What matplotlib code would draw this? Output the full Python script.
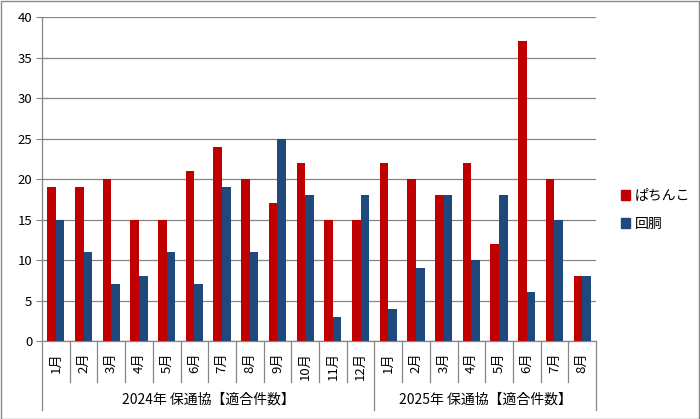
import matplotlib
matplotlib.use("Agg")
import matplotlib.pyplot as plt
import matplotlib.transforms as mtransforms
from matplotlib.patches import Rectangle, Patch
import numpy as np

plt.rcParams['font.family'] = ['Noto Sans CJK JP', 'DejaVu Sans']

months = ["1月", "2月", "3月", "4月", "5月", "6月", "7月", "8月", "9月", "10月", "11月", "12月",
          "1月", "2月", "3月", "4月", "5月", "6月", "7月", "8月"]
groups = ["2024年 保通協【適合件数】", "2025年 保通協【適合件数】"]
group_sizes = [12, 8]
pachinko = [19, 19, 20, 15, 15, 21, 24, 20, 17, 22, 15, 15,
            22, 20, 18, 22, 12, 37, 20, 8]
kaido = [15, 11, 7, 8, 11, 7, 19, 11, 25, 18, 3, 18,
         4, 9, 18, 10, 18, 6, 15, 8]
series_names = ["ぱちんこ", "回胴"]
colors = ["#C00000", "#1F497D"]

fig = plt.figure(figsize=(7, 4.19), dpi=100)
ax = fig.add_axes([42/700, 1-341/419, (596-42)/700, (341-17)/419])

x = np.arange(len(months))
w = 0.31
ax.bar(x - w/2, pachinko, w, color=colors[0], label=series_names[0], zorder=3)
ax.bar(x + w/2, kaido, w, color=colors[1], label=series_names[1], zorder=3)

ax.set_xlim(-0.5, len(months) - 0.5)
ax.set_ylim(0, 40)
ax.set_yticks(np.arange(0, 41, 5))
ax.yaxis.grid(True, color="#868686", linewidth=0.9, zorder=0)
ax.tick_params(axis='y', length=4, color="#868686", labelsize=9.5, pad=3)

ax.set_xticks(x)
ax.set_xticklabels(months, rotation=90, fontsize=9.5)
ax.tick_params(axis='x', length=0, pad=8)

for s in ['top', 'right']:
    ax.spines[s].set_visible(False)
for s in ['left', 'bottom']:
    ax.spines[s].set_color("#868686")
    ax.spines[s].set_linewidth(0.9)

trans = mtransforms.blended_transform_factory(ax.transData, ax.transAxes)
short_y = -(382 - 341) / 324
long_y = -(410 - 341) / 324
bounds = [0] + list(np.cumsum(group_sizes))
for b in range(len(months) + 1):
    ybot = long_y if b in bounds else short_y
    ax.plot([b - 0.5, b - 0.5], [0, ybot], color="#868686", linewidth=0.9,
            transform=trans, clip_on=False)
for gi, name in enumerate(groups):
    c = (bounds[gi] + bounds[gi + 1] - 1) / 2
    ax.text(c, -(400 - 341) / 324, name, transform=trans, ha='center', va='center',
            fontsize=10)

handles = [Patch(color=colors[0]), Patch(color=colors[1])]
fig.legend(handles, series_names, loc='center left', bbox_to_anchor=(608/700, 1 - 210/419),
           frameon=False, fontsize=10, handlelength=0.7, handleheight=0.7,
           handletextpad=0.3, labelspacing=1.0)

fig.patches.append(Rectangle((0.001, 0.001), 0.997, 0.997, transform=fig.transFigure,
                             fill=False, edgecolor="#888888", linewidth=1))

fig.savefig("out.png", dpi=100)
